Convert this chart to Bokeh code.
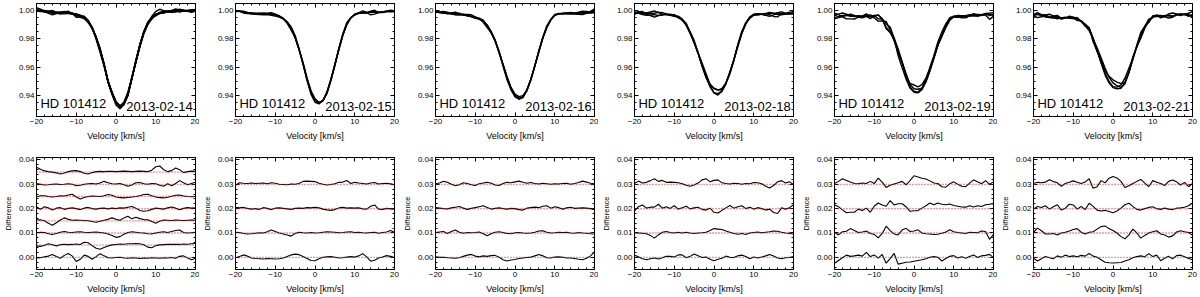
from math import pi
from bokeh.plotting import figure
from bokeh.layouts import row, column
from bokeh.models import LinearAxis, FixedTicker, Label, Range1d, NumeralTickFormatter, Span
from bokeh.embed import file_html
from bokeh.resources import INLINE

# ---------------- data ----------------
VELOCITY = list(range(-20, 21))  # km/s
STAR = "HD 101412"
DATES = ["2013-02-14", "2013-02-15", "2013-02-16", "2013-02-18", "2013-02-19", "2013-02-21"]

X_TICKS = [-20, -10, 0, 10, 20]
PROFILE_TICKS = [0.94, 0.96, 0.98, 1.00]
DIFF_TICKS = [0.00, 0.01, 0.02, 0.03, 0.04]

# mean LSD profiles (F/Fc)
MEAN_0214 = [1.0000, 0.9998, 0.9993, 0.9990, 0.9988, 0.9986, 0.9984, 0.9982, 0.9979, 0.9975,
             0.9970, 0.9962, 0.9948, 0.9922, 0.9878, 0.9810, 0.9720, 0.9615, 0.9495, 0.9414,
             0.9350, 0.9320, 0.9340, 0.9405, 0.9520, 0.9635, 0.9750, 0.9845, 0.9910, 0.9950,
             0.9972, 0.9984, 0.9990, 0.9992, 0.9993, 0.9994, 0.9995, 0.9996, 0.9997, 0.9998, 1.0000]
MEAN_0215 = [0.9995, 0.9992, 0.9985, 0.9982, 0.9980, 0.9979, 0.9978, 0.9977, 0.9976, 0.9973,
             0.9968, 0.9960, 0.9945, 0.9918, 0.9875, 0.9810, 0.9720, 0.9620, 0.9510, 0.9420,
             0.9365, 0.9345, 0.9362, 0.9418, 0.9510, 0.9615, 0.9725, 0.9825, 0.9900, 0.9945,
             0.9968, 0.9978, 0.9983, 0.9985, 0.9986, 0.9987, 0.9988, 0.9989, 0.9990, 0.9992, 0.9995]
MEAN_0216 = [0.9988, 0.9985, 0.9982, 0.9980, 0.9978, 0.9976, 0.9972, 0.9968, 0.9964, 0.9958,
             0.9950, 0.9938, 0.9920, 0.9890, 0.9845, 0.9785, 0.9705, 0.9615, 0.9525, 0.9450,
             0.9398, 0.9378, 0.9390, 0.9435, 0.9510, 0.9605, 0.9705, 0.9800, 0.9880, 0.9935,
             0.9965, 0.9975, 0.9978, 0.9979, 0.9980, 0.9980, 0.9981, 0.9982, 0.9984, 0.9986, 0.9990]
MEAN_0218 = [0.9982, 0.9980, 0.9978, 0.9976, 0.9975, 0.9974, 0.9972, 0.9970, 0.9968, 0.9965,
             0.9960, 0.9950, 0.9932, 0.9900, 0.9845, 0.9775, 0.9695, 0.9610, 0.9530, 0.9468,
             0.9432, 0.9420, 0.9435, 0.9480, 0.9555, 0.9650, 0.9750, 0.9840, 0.9910, 0.9950,
             0.9968, 0.9972, 0.9973, 0.9974, 0.9974, 0.9974, 0.9975, 0.9976, 0.9977, 0.9978, 0.9980]
MEAN_0219 = [0.9965, 0.9963, 0.9960, 0.9958, 0.9956, 0.9955, 0.9955, 0.9956, 0.9957, 0.9957,
             0.9955, 0.9945, 0.9928, 0.9895, 0.9850, 0.9790, 0.9710, 0.9620, 0.9535, 0.9470,
             0.9438, 0.9430, 0.9450, 0.9500, 0.9575, 0.9665, 0.9755, 0.9830, 0.9890, 0.9930,
             0.9948, 0.9955, 0.9957, 0.9958, 0.9959, 0.9960, 0.9961, 0.9962, 0.9963, 0.9964, 0.9965]
MEAN_0221 = [0.9968, 0.9965, 0.9962, 0.9958, 0.9955, 0.9952, 0.9950, 0.9948, 0.9945, 0.9942,
             0.9938, 0.9932, 0.9920, 0.9895, 0.9855, 0.9795, 0.9720, 0.9640, 0.9565, 0.9510,
             0.9478, 0.9468, 0.9470, 0.9505, 0.9570, 0.9655, 0.9745, 0.9825, 0.9885, 0.9925,
             0.9948, 0.9958, 0.9962, 0.9963, 0.9964, 0.9965, 0.9966, 0.9967, 0.9968, 0.9969, 0.9970]

# individual minus mean profiles, in units of 1e-3 (lower panels, bottom curve first)
DIFF_0214 = [
    [-0.3, -0.2, 0.2, 0.5, 1.2, 0.3, -0.4, 0.8, 1.6, 0.5,
     -1.7, -0.8, 0.9, 0.4, -0.8, 0.3, 1.5, 0.6, -0.2, -0.3,
     -0.1, 0.0, -0.3, -0.4, -0.2, -0.3, -0.5, -0.3, -0.4, -0.2,
     -0.3, -0.4, -0.2, -0.3, -0.1, -0.4, 0.4, 0.6, -0.3, -1.0, -0.4],
    [-0.3, -0.5, 0.0, 0.6, 0.2, -0.3, 0.2, 0.4, 0.2, 0.3,
     0.5, 0.3, 1.2, 1.0, -0.2, -1.3, -1.7, -1.0, -0.3, 0.1,
     0.3, 0.5, 0.4, 0.6, 0.6, 0.7, 0.6, 0.2, -0.8, -1.1,
     -0.2, 0.1, 0.2, 0.3, 0.4, 0.3, 0.3, 0.5, 0.4, 0.6, 0.7],
    [0.0, 0.3, 0.2, -0.3, -0.6, -0.2, 0.3, 0.6, 0.3, 0.2,
     0.4, 0.5, 0.3, 0.2, 0.3, 0.4, 0.2, 0.0, -0.4, -1.0,
     -1.8, -1.5, -0.5, 0.2, 0.5, 0.3, 0.1, 0.0, -0.3, -0.4,
     0.0, 0.3, 0.5, 0.2, 0.6, 1.0, 1.2, 0.2, 0.0, 0.1, 0.3],
    [0.3, 0.4, 0.0, -1.0, -1.8, -0.8, 0.3, 1.2, 0.6, 0.2,
     0.3, 0.2, 0.1, 0.0, -0.3, -0.6, -0.2, 0.2, 0.6, 1.2,
     0.6, 0.2, 1.2, 1.9, 0.8, 1.5, 0.9, 0.5, 0.4, -0.3,
     -1.0, -0.2, 0.3, 0.2, 0.1, 0.3, 0.2, 0.1, 0.2, 0.3, 0.2],
    [0.8, -0.3, 0.8, 0.3, -0.6, 0.2, 0.4, -0.3, 0.1, 0.3,
     0.0, -0.4, 0.2, 0.5, 0.0, -0.2, 0.1, 0.2, -0.1, 0.2,
     0.0, 0.3, 0.2, 0.6, 0.9, 0.2, -0.8, -1.1, -0.9, -0.3,
     0.2, 0.0, -0.2, 0.3, 0.7, 0.2, -0.5, 0.1, 0.4, 0.2, 0.3],
    [-0.2, 0.3, 0.3, 0.0, -0.2, 0.0, 0.3, 0.2, 0.6, 0.9,
     -0.2, -1.0, -0.4, 0.0, 0.2, 0.1, 0.0, 0.3, 0.8, 0.5,
     -0.2, -0.5, -0.6, -0.4, -0.2, 0.0, 0.3, 0.8, 0.9, 0.3,
     -0.2, -0.5, -0.6, -0.3, 0.1, 0.5, 0.6, 0.2, 0.0, -0.1, 0.0],
    [0.3, 0.0, -0.3, -0.2, 0.0, 0.1, -0.1, 0.0, 0.2, 0.0,
     -0.6, -0.4, 0.0, 0.2, 0.3, 0.1, 0.5, 1.2, 0.6, 0.2,
     0.1, 0.3, -0.2, -0.8, -0.3, 0.6, 0.7, 0.2, 0.0, 0.3,
     0.2, -0.4, -0.8, 0.2, -0.6, 0.3, 1.5, 0.6, -0.2, 0.3, 0.8],
    [2.0, 1.2, 0.5, 0.2, 0.0, -0.3, -0.8, -0.4, 0.2, 0.5,
     0.6, 0.2, -0.5, -0.8, -0.2, 0.2, 0.3, 0.2, 0.3, 0.3,
     0.2, 0.3, 0.4, 0.3, 0.2, 0.3, 0.4, 0.3, 0.2, 0.8,
     2.2, 2.5, 1.0, 0.2, 0.6, 1.7, 1.0, -0.2, 0.2, 0.4, 0.3],
]
DIFF_0215 = [
    [-0.2, 0.3, 1.0, 0.5, -0.3, -0.5, -0.6, -0.7, -0.5, -0.6,
     -0.7, -0.6, -0.3, 0.3, 1.0, 1.3, 1.1, 0.3, -0.5, -1.3,
     -1.4, -0.6, 0.0, 0.2, 0.3, 0.0, -0.3, -0.2, 0.1, 0.3,
     0.1, 0.6, 1.5, 0.2, -1.6, -1.2, -0.3, 0.1, 0.7, 0.4, -0.1],
    [0.3, 0.2, -0.2, -0.4, -0.3, -0.1, 0.1, 0.0, 0.5, 1.2,
     0.6, 0.0, -0.4, -0.8, -1.3, -0.2, 0.3, 0.1, 0.0, 0.2,
     0.0, 0.1, 0.3, 0.5, 0.4, 0.3, 0.1, 0.2, 0.4, 0.5,
     0.2, 0.3, 0.1, 0.0, 0.2, 0.3, -0.1, 0.2, 0.4, 1.0, 0.3],
    [0.6, 0.3, 0.5, 0.1, -0.2, 0.0, -0.3, 0.4, 0.1, -0.4,
     0.2, 0.3, 0.1, -0.1, -0.3, 0.1, 0.2, 0.1, 0.4, 0.3,
     0.5, 0.3, -0.2, -0.5, -0.7, -0.4, 0.3, 0.5, 0.2, 0.3,
     0.2, 0.3, -0.1, -0.2, 1.0, 1.5, -0.2, -0.3, 0.1, -0.1, -0.2],
    [-0.4, 0.6, 0.4, 0.3, 0.5, 0.3, 0.4, 0.5, 0.2, 0.6,
     0.4, 0.0, -0.1, -0.2, 0.1, 0.0, 0.3, 1.2, 1.3, 1.2,
     1.1, 0.4, 0.0, -0.3, -0.1, 0.2, 0.8, 0.9, 1.6, 0.3,
     0.8, 0.5, 0.3, 0.1, 0.5, 0.7, 0.1, 0.3, 0.4, 0.2, -0.2],
]
DIFF_0216 = [
    [0.2, 0.0, 0.0, -0.2, -0.3, -0.4, -0.2, 0.4, 0.9, 1.2,
     0.5, 0.2, 0.6, 0.4, 0.7, 0.8, 0.0, -1.0, -1.5, -1.1,
     -0.9, -0.5, -0.3, -0.1, 0.1, 0.6, 1.2, 0.6, -0.2, -0.3,
     0.1, 0.2, 0.0, -0.3, -0.3, -0.5, -0.8, -1.0, -0.4, 0.6, 2.2],
    [0.2, 0.4, 0.6, -0.2, 0.6, 1.2, 0.3, -0.1, 0.2, 0.1,
     0.2, 0.4, -0.3, -1.1, -0.3, 0.3, 0.5, 0.2, -0.2, -0.3,
     0.1, 0.2, 0.0, -0.1, 0.0, 0.3, 0.8, 0.9, 0.3, 0.0,
     0.1, 0.3, 0.2, 0.3, 0.0, -0.1, 0.2, 0.0, -0.1, -0.3, -0.4],
    [0.4, 0.2, 0.0, -0.1, 0.3, 0.6, 0.9, 0.2, -0.3, 0.1,
     0.4, 0.8, 1.2, 0.5, -0.2, 0.1, 0.3, 0.0, -0.2, 0.1,
     0.0, -0.4, -0.6, 0.2, 0.4, 0.6, 0.4, 1.0, 1.2, 0.2,
     0.8, 0.4, -0.2, 0.3, 0.6, 0.1, 0.2, 0.3, 0.2, 0.0, -0.4],
    [0.2, 0.5, 1.2, 0.8, 0.0, -0.6, -0.2, 0.6, 0.3, -0.2,
     -0.5, 0.2, 0.5, 0.8, 0.4, -0.3, -0.5, 0.3, 0.8, 0.6,
     1.0, 1.3, 0.8, 0.4, 0.7, 0.3, 0.1, 0.4, 0.2, 0.0,
     0.2, 0.1, 0.3, 0.4, 0.0, 0.3, 0.7, 1.3, 0.9, 0.4, 0.2],
]
DIFF_0218 = [
    [0.9, 0.2, -0.6, -1.0, -0.6, -0.3, -0.7, -0.2, 0.4, 0.4,
     0.1, 1.0, 1.0, -0.2, 0.4, 1.4, 0.6, -0.1, 0.1, -0.8,
     -1.4, -0.8, -0.4, 0.5, 0.0, -0.1, 0.6, 0.9, 0.3, -0.6,
     0.1, -0.3, 0.1, 0.6, 1.2, 0.5, -0.3, -0.6, -0.2, -0.1, 0.3],
    [0.0, 0.0, -0.1, -0.3, -1.0, -2.1, -0.8, 0.3, 0.6, 0.2,
     0.0, 0.3, 0.0, 0.3, 0.0, -0.2, 0.0, 0.1, 0.3, 1.0,
     1.8, 1.6, 1.4, 0.8, 0.3, -0.2, -0.5, -0.2, -0.6, 0.0,
     0.2, 0.4, 0.1, 0.3, 0.5, 0.8, 0.7, 0.3, 0.0, -0.2, -0.4],
    [-1.0, 0.8, 1.5, 0.2, 0.6, 0.6, 1.8, 0.2, 0.8, 0.1,
     1.2, -0.2, 0.4, 1.0, -0.1, 0.3, 0.6, -0.3, -0.6, 0.2,
     -1.5, -1.8, -0.7, 0.3, 1.3, 0.2, 0.8, 1.2, 0.0, 0.6,
     -0.2, 0.4, 0.0, -0.6, -0.2, -1.6, -2.0, 0.3, -0.2, 0.4, 1.6],
    [0.3, 1.3, 0.5, 0.8, 1.5, 2.3, 1.2, 1.6, 0.8, 0.9,
     0.8, 0.6, 0.2, -0.4, -0.8, -0.3, 0.5, 1.8, 2.3, 1.0,
     1.6, 1.8, 0.6, 0.3, 0.1, 0.4, 0.3, 0.0, 0.3, 0.2,
     0.7, 0.6, 0.2, -0.8, -1.5, -0.5, 1.0, 1.5, 0.5, 1.0, -0.1],
]
DIFF_0219 = [
    [-2.4, -1.3, -0.2, 0.9, 0.4, 0.6, 0.9, 0.5, 2.0, 0.3,
     1.0, -0.3, 1.2, -2.4, -0.5, 1.6, -2.8, -2.4, -2.0, -1.9,
     -1.6, -1.3, -1.0, -0.6, 0.0, 0.3, 0.0, -1.5, -0.5, 0.4,
     0.7, -0.3, 0.2, -0.4, 0.3, 1.0, -0.1, 0.6, 0.8, 1.2, -0.1],
    [0.3, -0.8, 0.5, 0.7, 1.8, 1.0, 0.2, 0.4, 0.8, -0.2,
     -0.6, -2.0, -0.2, 2.8, 1.0, -0.4, -0.8, 1.2, 1.9, 0.6,
     0.8, 1.3, 0.0, -0.3, -0.4, -0.6, -0.5, -0.1, 0.4, 1.3,
     0.5, 0.2, 0.0, -0.2, 0.3, 0.2, 0.1, 0.8, 0.6, -2.6, -0.6],
    [1.6, 0.8, -0.5, -1.7, -1.5, -1.5, -0.2, -0.8, 0.2, -1.5,
     1.0, 2.3, 1.5, 1.0, 3.3, 1.5, 2.0, 2.0, 0.8, -1.1,
     -0.9, -0.8, 0.2, 1.2, 2.3, 1.6, 2.3, 1.8, 1.6, 1.9,
     1.3, 1.0, 0.7, 0.6, 1.2, 0.7, 1.2, 0.9, 1.6, 1.8, 2.0],
    [0.3, 1.2, 2.3, 1.6, 0.9, 0.3, 0.2, 0.5, 0.3, 1.2,
     0.3, 2.5, 0.9, -1.3, -0.4, 0.1, 0.6, 1.2, -0.2, 1.5,
     3.5, 3.0, 2.5, 2.2, 1.4, 0.5, 0.3, -1.0, -1.2, 0.2,
     1.0, 0.0, -0.8, -1.0, 0.5, 1.8, 1.0, 0.2, 1.5, 0.0, 1.0],
]
DIFF_0221 = [
    [-0.4, -1.5, -0.6, 0.3, -0.2, -0.6, 0.6, 0.0, 0.9, 0.3,
     0.6, 0.2, 0.8, 0.5, 1.6, 0.5, 0.0, -1.0, -2.0, -2.2,
     -2.3, -2.2, -2.1, -1.5, -1.0, -0.2, 0.3, 0.6, 0.2, 1.5,
     0.3, 0.9, -1.4, -0.4, 0.4, -0.6, 0.7, 0.9, 0.2, -0.5, -1.0],
    [0.3, 2.0, 0.9, -0.4, -0.4, -0.2, -0.8, 0.0, 0.3, 0.8,
     1.4, 1.8, 0.3, -0.4, 0.3, 0.5, 1.6, 2.6, 2.9, 1.8,
     1.0, 0.0, -1.5, -2.4, -0.8, 1.6, 0.0, -2.1, -1.0, 0.0,
     0.5, 0.9, -0.4, -0.8, -1.7, -1.2, 0.4, 0.9, 0.5, 0.2, -1.0],
    [-0.1, 0.9, 0.5, 1.2, -0.2, 0.8, 1.6, -0.6, 0.2, 1.8,
     1.5, -0.2, 0.9, -0.4, 2.2, 0.9, -0.6, -1.0, -0.7, -1.2,
     -1.7, -1.0, 0.2, 1.6, 2.2, 0.9, -0.3, -0.6, 0.0, 0.5,
     0.8, 0.0, -0.3, 0.2, -0.2, -0.4, 0.2, 0.3, 0.6, 1.2, 2.3],
    [0.3, 0.8, 0.6, 0.9, 1.9, 1.1, 0.6, -0.8, 0.3, 0.8,
     1.4, 0.8, 0.3, 0.9, 2.3, -1.6, -1.0, 1.5, 0.6, 2.5,
     3.2, 2.6, 1.2, -1.3, -0.6, 0.3, 1.2, 2.0, 0.5, -1.0,
     1.5, 0.8, 0.3, -0.5, 1.2, 1.8, 1.0, -0.3, 0.8, -1.0, 0.3],
]

OFFSETS_0214 = [0.000, 0.005, 0.010, 0.015, 0.020, 0.025, 0.030, 0.035]
OFFSETS_OTHER = [0.00, 0.01, 0.02, 0.03]

PANELS = [
    (DATES[0], MEAN_0214, DIFF_0214, OFFSETS_0214),
    (DATES[1], MEAN_0215, DIFF_0215, OFFSETS_OTHER),
    (DATES[2], MEAN_0216, DIFF_0216, OFFSETS_OTHER),
    (DATES[3], MEAN_0218, DIFF_0218, OFFSETS_OTHER),
    (DATES[4], MEAN_0219, DIFF_0219, OFFSETS_OTHER),
    (DATES[5], MEAN_0221, DIFF_0221, OFFSETS_OTHER),
]

# ---------------- styling ----------------
FONT = "Liberation Sans"
X_MINOR = list(range(-20, 21, 2))
PROF_MINOR = [round(0.925 + 0.005 * i, 3) for i in range(17)]
DIFF_MINOR = [round(-0.004 + 0.002 * i, 3) for i in range(23)]
COL_WIDTHS = [199, 200, 199, 200, 199, 200]
LEFT_BORDER = 36
FRAME_W = 159


def style_axis(ax, ticks, minor, show_labels, fmt=None):
    ax.ticker = FixedTicker(ticks=ticks, minor_ticks=minor)
    ax.major_tick_in = 4
    ax.major_tick_out = 0
    ax.minor_tick_in = 2
    ax.minor_tick_out = 0
    ax.axis_line_color = "black"
    ax.major_tick_line_color = "black"
    ax.minor_tick_line_color = "black"
    ax.axis_label_text_font = FONT
    ax.axis_label_text_font_style = "normal"
    ax.axis_label_text_color = "black"
    ax.major_label_text_font = FONT
    if fmt is not None:
        ax.formatter = NumeralTickFormatter(format=fmt)
    if show_labels:
        ax.major_label_text_color = "black"
        ax.major_label_text_font_size = "8px"
        ax.major_label_standoff = 2
    else:
        ax.major_label_text_color = None
        ax.major_label_text_alpha = 0
        ax.major_label_text_font_size = "0px"
        ax.major_label_standoff = 0


def make_fig(width, top, frame_h, bottom, yr, yticks, yminor):
    p = figure(width=width, height=top + frame_h + bottom,
               x_range=Range1d(-20, 20), y_range=Range1d(*yr),
               output_backend="svg", toolbar_location=None,
               min_border_left=LEFT_BORDER, min_border_right=width - LEFT_BORDER - FRAME_W,
               min_border_top=top, min_border_bottom=bottom)
    p.xgrid.visible = False
    p.ygrid.visible = False
    p.outline_line_color = "black"
    p.background_fill_color = "white"
    p.border_fill_color = "white"
    p.add_layout(LinearAxis(), "above")
    p.add_layout(LinearAxis(), "right")
    style_axis(p.below[0], X_TICKS, X_MINOR, True)
    style_axis(p.above[0], X_TICKS, X_MINOR, False)
    style_axis(p.left[0], yticks, yminor, True, "0.00")
    style_axis(p.right[0], yticks, yminor, False)
    p.below[0].axis_label = "Velocity [km/s]"
    p.below[0].axis_label_text_font_size = "9px"
    p.below[0].axis_label_standoff = 4
    return p


tops, bots = [], []
for i, (date, mean, diffs, offs) in enumerate(PANELS):
    w = COL_WIDTHS[i]

    pt = make_fig(w, 3, 114, 26, (0.925, 1.005), PROFILE_TICKS, PROF_MINOR)
    for d in diffs:
        prof = [m + 1e-3 * dd for m, dd in zip(mean, d)]
        pt.line(VELOCITY, prof, line_color="black", line_width=1.4)
    pt.add_layout(Label(x=-19.0, y=0.9292, text=STAR, text_font=FONT,
                        text_font_size="13px", text_color="black"))
    pt.add_layout(Label(x=19.3, y=0.9292, text=date, text_font=FONT,
                        text_font_size="13px", text_color="black", text_align="right"))
    pt.add_layout(Label(x=-27.5, y=0.9664, text="F/F", angle=pi / 2, text_font=FONT,
                        text_font_size="7.5px", text_align="center", text_baseline="middle",
                        text_color="black"))
    pt.add_layout(Label(x=-27.0, y=0.9708, text="c", angle=pi / 2, text_font=FONT,
                        text_font_size="5.5px", text_align="left", text_baseline="middle",
                        text_color="black"))
    tops.append(pt)

    pb = make_fig(w, 14, 115, 24, (-0.005, 0.041), DIFF_TICKS, DIFF_MINOR)
    pb.left[0].axis_label = "Difference"
    pb.left[0].axis_label_text_font_size = "7.5px"
    pb.left[0].axis_label_standoff = 3
    for off in offs:
        pb.add_layout(Span(location=off, dimension="width", line_color="red",
                           line_dash="1 2", line_width=1.3, line_alpha=0.85))
    for off, d in zip(offs, diffs):
        pb.line(VELOCITY, [off + 1e-3 * dd for dd in d], line_color="black", line_width=1.1)
    bots.append(pb)

layout = column(row(*tops), row(*bots))
open("out.html", "w").write(file_html(layout, INLINE))
